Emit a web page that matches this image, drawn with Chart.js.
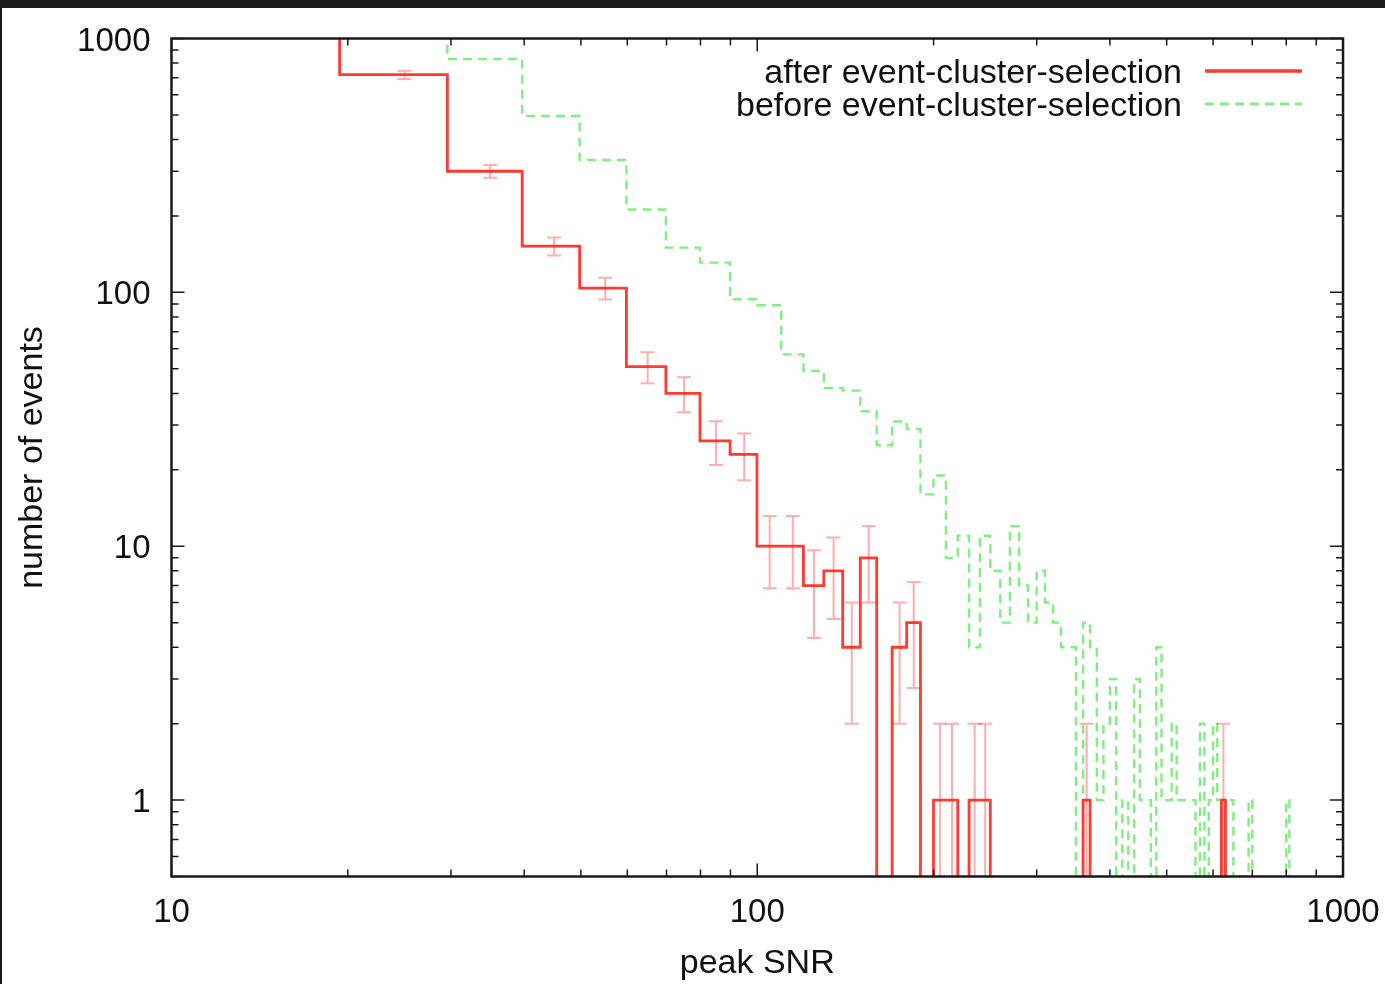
<!DOCTYPE html>
<html lang="en">
<head>
<meta charset="UTF-8">
<title>peak SNR</title>
<script src="https://cdn.jsdelivr.net/npm/chart.js"></script>
<style>
  html, body { margin: 0; padding: 0; background: #1b1b1b; overflow: hidden; }
  #frame { position: absolute; left: 2px; top: 8px; width: 1383px; height: 976px; background: #fff; }
</style>
</head>
<body>
<div id="frame"><canvas id="snrChart" width="1383" height="976"></canvas></div>
<script>
// bin centres (peak SNR), bins are 10 wide
const snrBins = [
  15, 25, 35, 45, 55, 65, 75, 85, 95, 105,
  115, 125, 135, 145, 155, 165, 175, 185, 195, 205,
  215, 225, 235, 245, 255, 265, 275, 285, 295, 305,
  315, 325, 335, 345, 355, 365, 375, 385, 395, 405,
  415, 425, 435, 445, 455, 465, 475, 485, 495, 505,
  515, 525, 535, 545, 555, 565, 575, 585, 595, 605,
  615, 625, 635, 645, 655, 665, 675, 685, 695, 705,
  715, 725, 735, 745, 755, 765, 775, 785, 795, 805,
  815
];

// counts per bin after event-cluster-selection
const afterSelection = [
  2000, 720, 300, 152, 104, 51, 40, 26, 23, 10,
  10, 7, 8, 4, 9, 0, 4, 5, 0, 1,
  1, 0, 1, 1, 0, 0, 0, 0, 0, 0,
  0, 0, 0, 0, 0, 1, 0, 0, 0, 0,
  0, 0, 0, 0, 0, 0, 0, 0, 0, 0,
  0, 0, 0, 0, 0, 0, 0, 0, 0, 0,
  0, 1, 0, 0, 0, 0, 0, 0, 0, 0,
  0, 0, 0, 0, 0, 0, 0, 0, 0, 0,
  0
];

// counts per bin before event-cluster-selection
const beforeSelection = [
  3000, 1400, 830, 495, 332, 212, 150, 131, 94, 89,
  57, 49, 42, 41, 34, 25, 31, 29, 16, 19,
  9, 11, 4, 11, 8, 5, 12, 7, 5, 8,
  6, 5, 4, 4, 0, 5, 4, 1, 2, 3,
  0, 1, 0, 3, 1, 1, 0, 4, 1, 1,
  2, 1, 1, 1, 1, 0, 2, 0, 1, 2,
  1, 1, 1, 1, 0, 0, 0, 0, 1, 0,
  0, 0, 0, 0, 0, 0, 0, 0, 0, 1,
  0
];

const xTicks = [10, 100, 1000];
const yTicks = [1, 10, 100, 1000];

const FONT = "'Liberation Sans', Arial, Helvetica, sans-serif";
const INK = '#111';

// empty bins can't sit on a log axis, push them far under the floor so the step drops out
function toPoints(counts) {
  return snrBins.map((snr, i) => ({ x: snr, y: counts[i] > 0 ? counts[i] : 1e-3 }));
}

// sqrt(N) error bars on the selected histogram
const errorBars = {
  id: 'errorBars',
  afterDatasetsDraw(chart) {
    const { ctx, chartArea: a, scales: { x, y } } = chart;
    ctx.save();
    ctx.beginPath();
    ctx.rect(a.left, a.top, a.right - a.left, a.bottom - a.top);
    ctx.clip();
    ctx.strokeStyle = 'rgba(255, 40, 40, 0.38)';
    ctx.lineWidth = 2;
    snrBins.forEach((snr, i) => {
      const n = afterSelection[i];
      if (!n) return;
      const err = Math.sqrt(n);
      const px = x.getPixelForValue(snr);
      const hi = y.getPixelForValue(n + err);
      const lo = n - err > 0 ? y.getPixelForValue(n - err) : a.bottom + 5;
      ctx.beginPath();
      ctx.moveTo(px, lo);
      ctx.lineTo(px, hi);
      ctx.moveTo(px - 7, hi);
      ctx.lineTo(px + 7, hi);
      if (n - err > 0) {
        ctx.moveTo(px - 7, lo);
        ctx.lineTo(px + 7, lo);
      }
      ctx.stroke();
    });
    ctx.restore();
  }
};

// box around the plot with inward log ticks on all four sides
const frameTicks = {
  id: 'frameTicks',
  afterDatasetsDraw(chart) {
    const { ctx, chartArea: a, scales: { x, y } } = chart;
    ctx.save();
    ctx.strokeStyle = '#1a1a1a';
    ctx.lineWidth = 1.5;
    ctx.beginPath();
    for (let e = 1; e <= 3; e++) {
      for (let k = 1; k <= 9; k++) {
        const v = k * Math.pow(10, e);
        if (v > x.max) break;
        const px = x.getPixelForValue(v);
        const len = k === 1 ? 13 : 7;
        ctx.moveTo(px, a.bottom); ctx.lineTo(px, a.bottom - len);
        ctx.moveTo(px, a.top); ctx.lineTo(px, a.top + len);
      }
    }
    for (let e = -1; e <= 3; e++) {
      for (let k = 1; k <= 9; k++) {
        const v = k * Math.pow(10, e);
        if (v < y.min) continue;
        if (v > y.max) break;
        const py = y.getPixelForValue(v);
        const len = k === 1 ? 13 : 7;
        ctx.moveTo(a.left, py); ctx.lineTo(a.left + len, py);
        ctx.moveTo(a.right, py); ctx.lineTo(a.right - len, py);
      }
    }
    ctx.stroke();
    ctx.lineWidth = 2.5;
    ctx.strokeRect(a.left, a.top, a.right - a.left, a.bottom - a.top);
    ctx.restore();
  }
};

// key in the top right corner: label first, line sample after it
const keyBox = {
  id: 'keyBox',
  afterDraw(chart) {
    const { ctx, chartArea: a } = chart;
    ctx.save();
    ctx.font = '34px ' + FONT;
    ctx.textAlign = 'right';
    ctx.textBaseline = 'middle';
    chart.data.datasets.forEach((ds, i) => {
      const yy = a.top + 32.5 + i * 33;
      ctx.fillStyle = INK;
      ctx.fillText(ds.label, a.right - 161, yy + 2.5);
      ctx.strokeStyle = ds.borderColor;
      ctx.lineWidth = ds.borderWidth + 0.5;
      ctx.setLineDash(ds.borderDash || []);
      ctx.beginPath();
      ctx.moveTo(a.right - 138, yy);
      ctx.lineTo(a.right - 41, yy);
      ctx.stroke();
    });
    ctx.restore();
  }
};

// labels may hang past the plot box, so the scales claim no extra padding
function noLabelPadding(s) {
  s.paddingTop = 0;
  s.paddingBottom = 0;
  s.paddingLeft = 0;
  s.paddingRight = 0;
}

const tickFont = { family: FONT, size: 33 };
const titleFont = { family: FONT, size: 34 };

new Chart(document.getElementById('snrChart'), {
  type: 'line',
  data: {
    datasets: [
      {
        label: 'after event-cluster-selection',
        data: toPoints(afterSelection),
        borderColor: '#ff3a30',
        borderWidth: 2.8,
        stepped: 'middle',
        pointRadius: 0,
        fill: false,
        clip: 0
      },
      {
        label: 'before event-cluster-selection',
        data: toPoints(beforeSelection),
        borderColor: '#84ec84',
        borderWidth: 2.4,
        borderDash: [9, 6],
        stepped: 'middle',
        pointRadius: 0,
        fill: false,
        clip: 0
      }
    ]
  },
  options: {
    responsive: false,
    animation: false,
    events: [],
    layout: { padding: { top: 30.5, right: 42, left: 0, bottom: 0 } },
    plugins: { legend: { display: false }, tooltip: { enabled: false } },
    scales: {
      x: {
        type: 'logarithmic',
        min: 10,
        max: 1000,
        grid: { display: false, drawTicks: false },
        border: { display: false },
        afterBuildTicks: s => { s.ticks = xTicks.map(v => ({ value: v })); },
        afterFit: s => { s.height = 107.5; noLabelPadding(s); },
        ticks: { callback: v => String(v), color: INK, font: tickFont, padding: 17, maxRotation: 0, autoSkip: false },
        title: { display: true, text: 'peak SNR', color: INK, font: titleFont, padding: { top: 2, bottom: 0 } }
      },
      y: {
        type: 'logarithmic',
        min: 0.5,
        max: 1000,
        grid: { display: false, drawTicks: false },
        border: { display: false },
        afterBuildTicks: s => { s.ticks = yTicks.map(v => ({ value: v })); },
        afterFit: s => { s.width = 169.5; noLabelPadding(s); },
        ticks: { callback: v => String(v), color: INK, font: tickFont, padding: 21, labelOffset: 3, autoSkip: false },
        title: { display: true, text: 'number of events', color: INK, font: titleFont, padding: { top: 10, bottom: 0 } }
      }
    }
  },
  plugins: [errorBars, frameTicks, keyBox]
});
</script>
</body>
</html>
